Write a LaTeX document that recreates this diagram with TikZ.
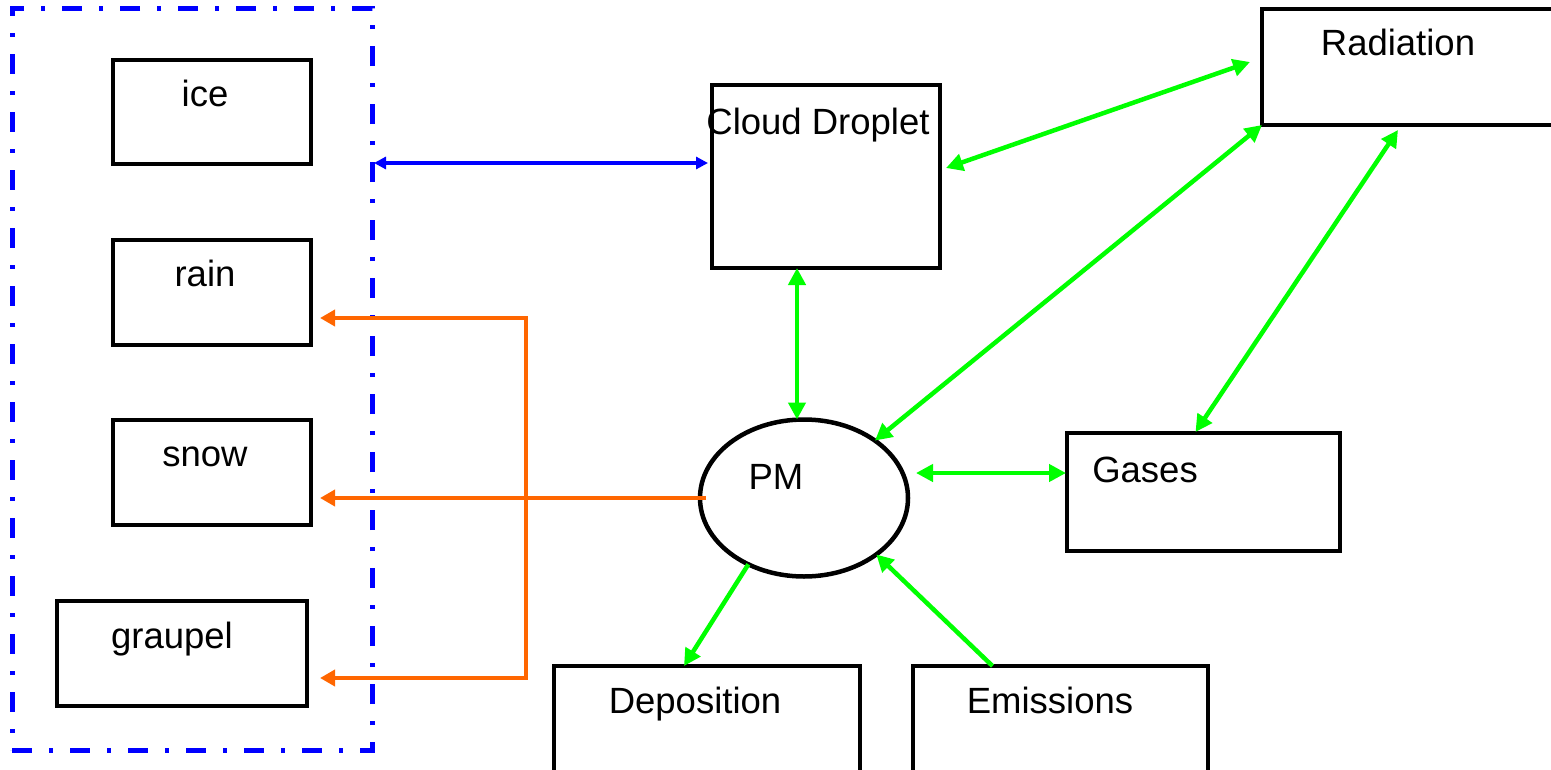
\documentclass[tikz,border=0pt]{standalone}
\usepackage{fontspec}
\setmainfont{Liberation Sans}
\usetikzlibrary{arrows.meta,shapes.geometric,calc}

\definecolor{limeline}{RGB}{0,255,0}
\definecolor{orangeline}{RGB}{255,102,0}
\definecolor{blueline}{RGB}{0,0,255}

\begin{document}
\begin{tikzpicture}[
    x=1pt, y=-1pt,
    box/.style={
      draw,
      line width=4.5pt,
      inner sep=0pt,
      outer sep=0pt
    },
    lbl/.style={anchor=base, inner sep=0pt, font=\fontsize{36.5}{44}\selectfont},
    gline/.style={draw=limeline, line width=4.5pt, >={Triangle[length=17pt,width=17pt]}},
    oline/.style={draw=orangeline, line width=4.5pt, >={Triangle[length=15pt,width=16pt]}},
    bline/.style={draw=blueline, line width=3.5pt, >={Triangle[length=12pt,width=12pt]}}
  ]
  \useasboundingbox (0,0) rectangle (1551,769);
  \clip (0,0) rectangle (1551,769);

  % hydrometeors
  \node[
    draw=blueline,
    line width=5pt,
    dash pattern=on 20pt off 17pt on 4pt off 17pt,
    minimum width=360pt,
    minimum height=742pt,
    inner sep=0pt, outer sep=0pt
  ] (hydro) at (192,379) {};

  \node[box, minimum width=198pt, minimum height=104pt] (ice) at (212,112) {};
  \node[box, minimum width=198pt, minimum height=105pt] (rain) at (212,292.5) {};
  \node[box, minimum width=198pt, minimum height=105pt] (snow) at (212,472.5) {};
  \node[box, minimum width=250pt, minimum height=105pt] (graupel) at (182,653.5) {};
  \node[lbl] at (205,106) {ice};
  \node[lbl] at (205,286) {rain};
  \node[lbl] at (205,466) {snow};
  \node[lbl] at (172,648) {graupel};

  % chemistry side
  \node[box, minimum width=228pt, minimum height=183pt] (cloud) at (826,176.5) {};
  \node[box, minimum width=338pt, minimum height=116pt] (rad) at (1431,67) {};
  \node[box, minimum width=273pt, minimum height=118pt] (gases) at (1203.5,492) {};
  \node[box, ellipse, minimum width=208pt, minimum height=157pt] (pm) at (804,498) {};
  \node[box, minimum width=306pt, minimum height=134pt] (dep) at (707,733) {};
  \node[box, minimum width=295pt, minimum height=134pt] (emis) at (1060.5,733) {};
  \node[lbl] at (818,134) {Cloud Droplet};
  \node[lbl] at (1398,55) {Radiation};
  \node[lbl] at (1145,482) {Gases};
  \node[lbl] at (776,489) {PM};
  \node[lbl] at (695,713) {Deposition};
  \node[lbl] at (1050,713) {Emissions};

  % links
  \draw[bline, <->] ($(hydro.east |- cloud.west)+(2,-13.5)$) -- ($(cloud.west)+(-4,-13.5)$);

  \draw[oline, ->] ($(pm.west)+(6,0)$) -- ($(snow.east)+(9,25.5)$);
  \draw[oline, <->] ($(rain.east)+(9,25.5)$) -- ++(206,0) |- ($(graupel.east)+(13,24.5)$);

  \draw[gline, <->] ($(cloud.east)+(6,-8.5)$) -- ($(rad.west)+(-12,-5)$);
  \draw[gline, <->] (pm.39) -- (rad.south west);
  \draw[gline, <->] ($(cloud.south)+(-29,0)$) -- ($(cloud.south |- pm.north)+(-29,0)$);
  \draw[gline, <->] ($(gases.north)+(-8,-1)$) -- ($(rad.south)+(-33,5)$);
  \draw[gline, <->] ($(pm.east)+(8,-25)$) -- ($(gases.west)+(-1,-19)$);
  \draw[gline, ->] (pm.230) -- ($(dep.north)+(-23,0)$);
  \draw[gline, ->] ($(emis.north)+(-68,0)$) -- (pm.322);
\end{tikzpicture}
\end{document}
